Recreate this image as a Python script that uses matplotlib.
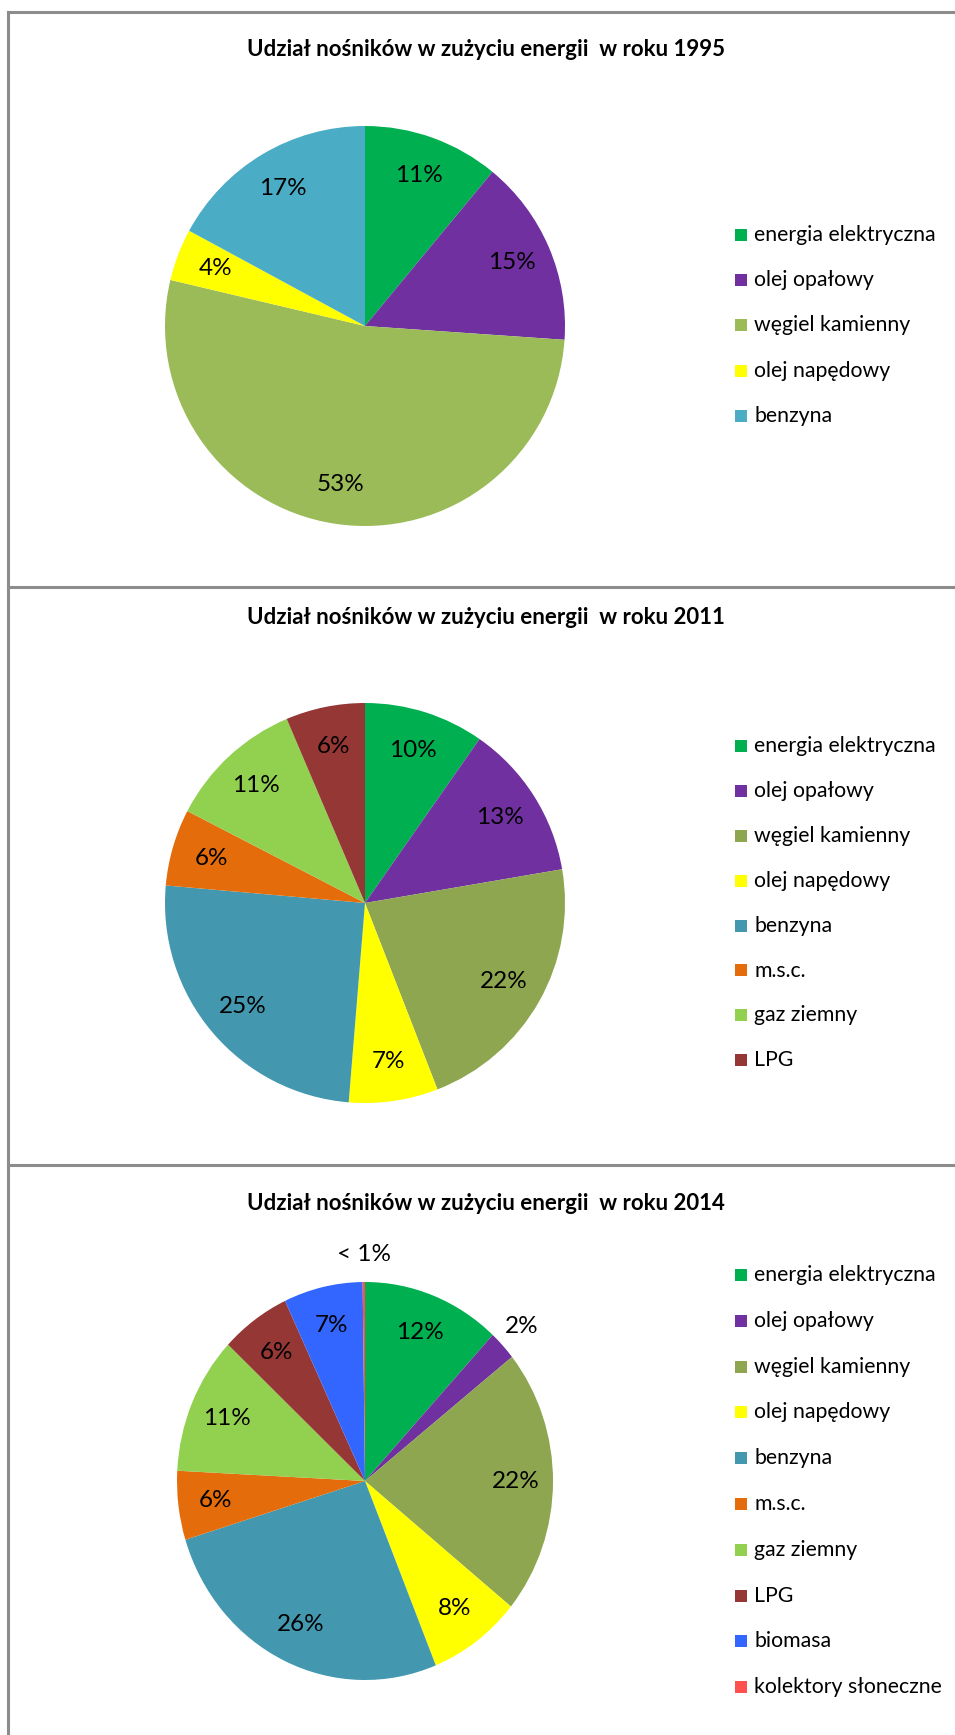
import numpy as np
import matplotlib
matplotlib.use("Agg")
import matplotlib.pyplot as plt
from matplotlib.patches import Rectangle
from matplotlib.lines import Line2D

# ---------------- data ----------------
title_prefix = "Udział nośników w zużyciu energii  w roku "
years = ["1995", "2011", "2014"]

cats_1995 = ["energia elektryczna", "olej opałowy", "węgiel kamienny",
             "olej napędowy", "benzyna"]
vals_1995 = [11.0, 15.1, 52.6, 4.2, 17.1]
colors_1995 = ["#00B050", "#7030A0", "#9BBB59", "#FFFF00", "#4BACC6"]

cats_2011 = ["energia elektryczna", "olej opałowy", "węgiel kamienny",
             "olej napędowy", "benzyna", "m.s.c.", "gaz ziemny", "LPG"]
vals_2011 = [9.7, 12.6, 21.8, 7.2, 25.1, 6.2, 11.0, 6.4]
colors_2011 = ["#00B050", "#7030A0", "#8DA64F", "#FFFF00", "#4398B0",
               "#E46C0A", "#92D050", "#953735"]

cats_2014 = ["energia elektryczna", "olej opałowy", "węgiel kamienny",
             "olej napędowy", "benzyna", "m.s.c.", "gaz ziemny", "LPG",
             "biomasa", "kolektory słoneczne"]
vals_2014 = [11.9, 2.4, 21.6, 8.0, 26.4, 5.6, 11.2, 6.0, 6.8, 0.2]
colors_2014 = ["#00B050", "#7030A0", "#8DA64F", "#FFFF00", "#4398B0",
               "#E46C0A", "#92D050", "#953735", "#3366FF", "#FF5050"]

# ---------------- layout ----------------
W, H, DPI = 955, 1735, 100
FONT = ["Lato", "DejaVu Sans"]
plt.rcParams["font.family"] = FONT

fig = plt.figure(figsize=(W / DPI, H / DPI), dpi=DPI)
fig.patch.set_facecolor("white")


def fx(x):
    return x / W


def fy(y):
    return 1 - y / H


panels = [
    dict(year=years[0], cats=cats_1995, vals=vals_1995, cols=colors_1995,
         title_y=56, center=(365, 326), rx=200, ry=200,
         leg_y0=235, leg_dy=45.2),
    dict(year=years[1], cats=cats_2011, vals=vals_2011, cols=colors_2011,
         title_y=624, center=(365, 903), rx=200, ry=200,
         leg_y0=746, leg_dy=44.9),
    dict(year=years[2], cats=cats_2014, vals=vals_2014, cols=colors_2014,
         title_y=1210, center=(365, 1481), rx=188, ry=199,
         leg_y0=1275, leg_dy=45.8),
]

for p in panels:
    cx, cy = p["center"]
    rx, ry = p["rx"], p["ry"]
    ax = fig.add_axes([fx(cx - rx), fy(cy + ry), 2 * rx / W, 2 * ry / H])
    wedges, _ = ax.pie(p["vals"], colors=p["cols"], startangle=90,
                       counterclock=False, radius=1.0,
                       wedgeprops=dict(linewidth=0))
    ax.set_aspect("auto")
    ax.set_xlim(-1, 1)
    ax.set_ylim(-1, 1)
    ax.axis("off")

    total = sum(p["vals"])
    for w, v in zip(wedges, p["vals"]):
        pct = v / total * 100
        if pct < 1:
            lab = "< 1%"
        else:
            lab = f"{pct:.0f}%"
        d = 0.8 if pct >= 3 else 1.14
        th = np.deg2rad((w.theta1 + w.theta2) / 2)
        ax.text(d * np.cos(th), d * np.sin(th), lab, ha="center", va="center",
                fontsize=17.5, color="black")

    fig.text(fx(486), fy(p["title_y"]), title_prefix + p["year"],
             ha="center", va="baseline", fontsize=16, fontweight="bold",
             color="black")

    for i, (c, col) in enumerate(zip(p["cats"], p["cols"])):
        yy = p["leg_y0"] + i * p["leg_dy"]
        fig.patches.append(Rectangle((fx(735), fy(yy + 6)), 12 / W, 12 / H,
                                     transform=fig.transFigure,
                                     facecolor=col, edgecolor="none"))
        fig.text(fx(754), fy(yy), c, ha="left", va="center",
                 fontsize=15.3, color="black")

# ---------------- borders ----------------
bc = "#8C8C8C"
lw = 2.2
for yline in (12, 587, 1165):
    fig.add_artist(Line2D([fx(8), 1.0], [fy(yline), fy(yline)],
                          transform=fig.transFigure, color=bc, linewidth=lw))
fig.add_artist(Line2D([fx(8), fx(8)], [fy(12), 0.0],
                      transform=fig.transFigure, color=bc, linewidth=lw))

fig.savefig("out.png", dpi=DPI, facecolor="white")
